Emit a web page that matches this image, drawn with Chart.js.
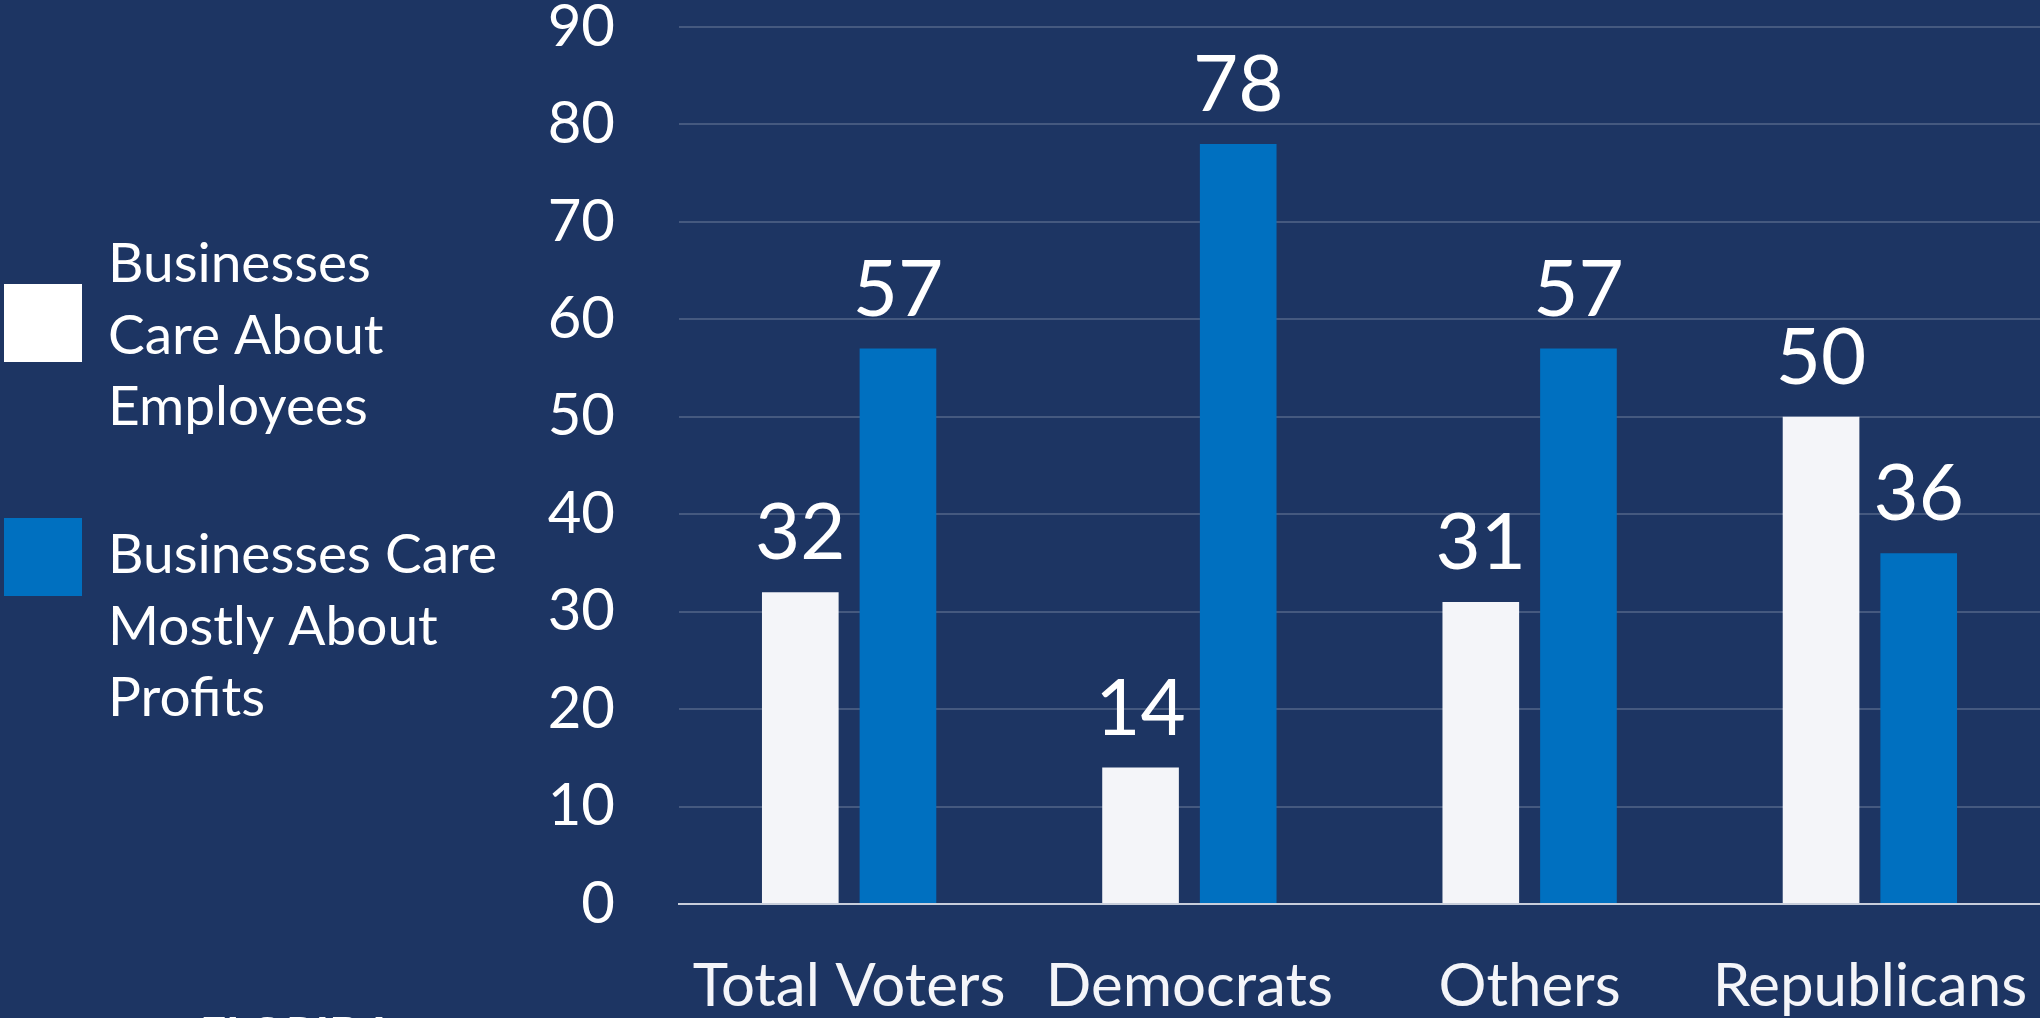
<!DOCTYPE html>
<html>
<head>
<meta charset="utf-8">
<script src="https://cdn.jsdelivr.net/npm/chart.js@4.4.1/dist/chart.umd.min.js"></script>
<style>
  html, body { margin: 0; padding: 0; background: #1d3563; overflow: hidden; }
  #wrap { position: relative; width: 2040px; height: 1018px; }
</style>
</head>
<body>
<div id="wrap"><canvas id="canvas" width="2040" height="1018"></canvas></div>
<script>
  // data
  const categories = ['Total Voters', 'Democrats', 'Others', 'Republicans'];
  const careEmployees = [32, 14, 31, 50];
  const careProfits = [57, 78, 57, 36];
  const seriesLines = [
    ['Businesses', 'Care About', 'Employees'],
    ['Businesses Care', 'Mostly About', 'Profits']
  ];
  const seriesColors = ['#f4f5f9', '#0070c0'];
  const legendColors = ['#ffffff', '#0070c0'];
  const yTicks = [0, 10, 20, 30, 40, 50, 60, 70, 80, 90];
  const footText = 'FLORIDA';

  const FONT = 'Lato, "Open Sans", sans-serif';
  const ctx = document.getElementById('canvas').getContext('2d');

  // values over the bars
  const valueLabels = {
    id: 'valueLabels',
    afterDatasetsDraw(chart) {
      const c = chart.ctx;
      c.save();
      c.fillStyle = '#ffffff';
      c.font = '78px ' + FONT;
      c.textAlign = 'center';
      c.textBaseline = 'alphabetic';
      chart.data.datasets.forEach(function(ds, i) {
        chart.getDatasetMeta(i).data.forEach(function(bar, j) {
          c.fillText(ds.data[j], bar.x, bar.y - 33);
        });
      });
      c.restore();
    }
  };

  // legend on the left, wrapped like the original
  const sideLegend = {
    id: 'sideLegend',
    afterDraw(chart) {
      const c = chart.ctx;
      const tops = [284, 518];
      const firstBase = [282, 573];
      c.save();
      c.textAlign = 'left';
      c.textBaseline = 'alphabetic';
      c.font = '55px ' + FONT;
      seriesLines.forEach(function(lines, i) {
        c.fillStyle = legendColors[i];
        c.fillRect(4, tops[i], 78, 78);
        c.fillStyle = '#ffffff';
        lines.forEach(function(t, k) {
          c.fillText(t, 108, firstBase[i] + k * 71.5);
        });
      });
      // logo text peeking at the bottom edge
      c.font = 'bold 46px ' + FONT;
      c.fillText(footText, 200, 1050);
      c.restore();
    }
  };

  const data = {
    labels: categories,
    datasets: [
      {
        label: seriesLines[0].join(' '),
        data: careEmployees,
        backgroundColor: seriesColors[0],
        barPercentage: 0.785,
        categoryPercentage: 0.574
      },
      {
        label: seriesLines[1].join(' '),
        data: careProfits,
        backgroundColor: seriesColors[1],
        barPercentage: 0.785,
        categoryPercentage: 0.574
      }
    ]
  };

  const options = {
    responsive: false,
    animation: false,
    layout: { padding: { top: 27, left: 0, right: 0, bottom: 0 } },
    plugins: {
      legend: { display: false },
      tooltip: { enabled: false },
      title: { display: false }
    },
    scales: {
      x: {
        grid: { display: false },
        border: { display: true, color: '#c8cedb', width: 2 },
        ticks: {
          color: '#f4f5f9',
          font: { family: FONT, size: 60 },
          padding: 39,
          maxRotation: 0,
          autoSkip: false
        },
        afterFit(scale) {
          scale.height = 114;
          scale.paddingLeft = 0;
          scale.paddingRight = 0;
        }
      },
      y: {
        min: 0,
        max: 90,
        afterBuildTicks(scale) {
          scale.ticks = yTicks.map(function(v) { return {value: v}; });
        },
        grid: {
          color: 'rgba(255,255,255,0.18)',
          lineWidth: 2,
          drawTicks: false
        },
        border: { display: false },
        ticks: {
          color: '#ffffff',
          font: { family: FONT, size: 58 },
          padding: 64
        },
        afterFit(scale) {
          scale.width = 679;
          scale.paddingTop = 0;
          scale.paddingBottom = 0;
        }
      }
    }
  };

  const chart = new Chart(ctx, {
    type: 'bar',
    data: data,
    options: options,
    plugins: [valueLabels, sideLegend]
  });
</script>
</body>
</html>
